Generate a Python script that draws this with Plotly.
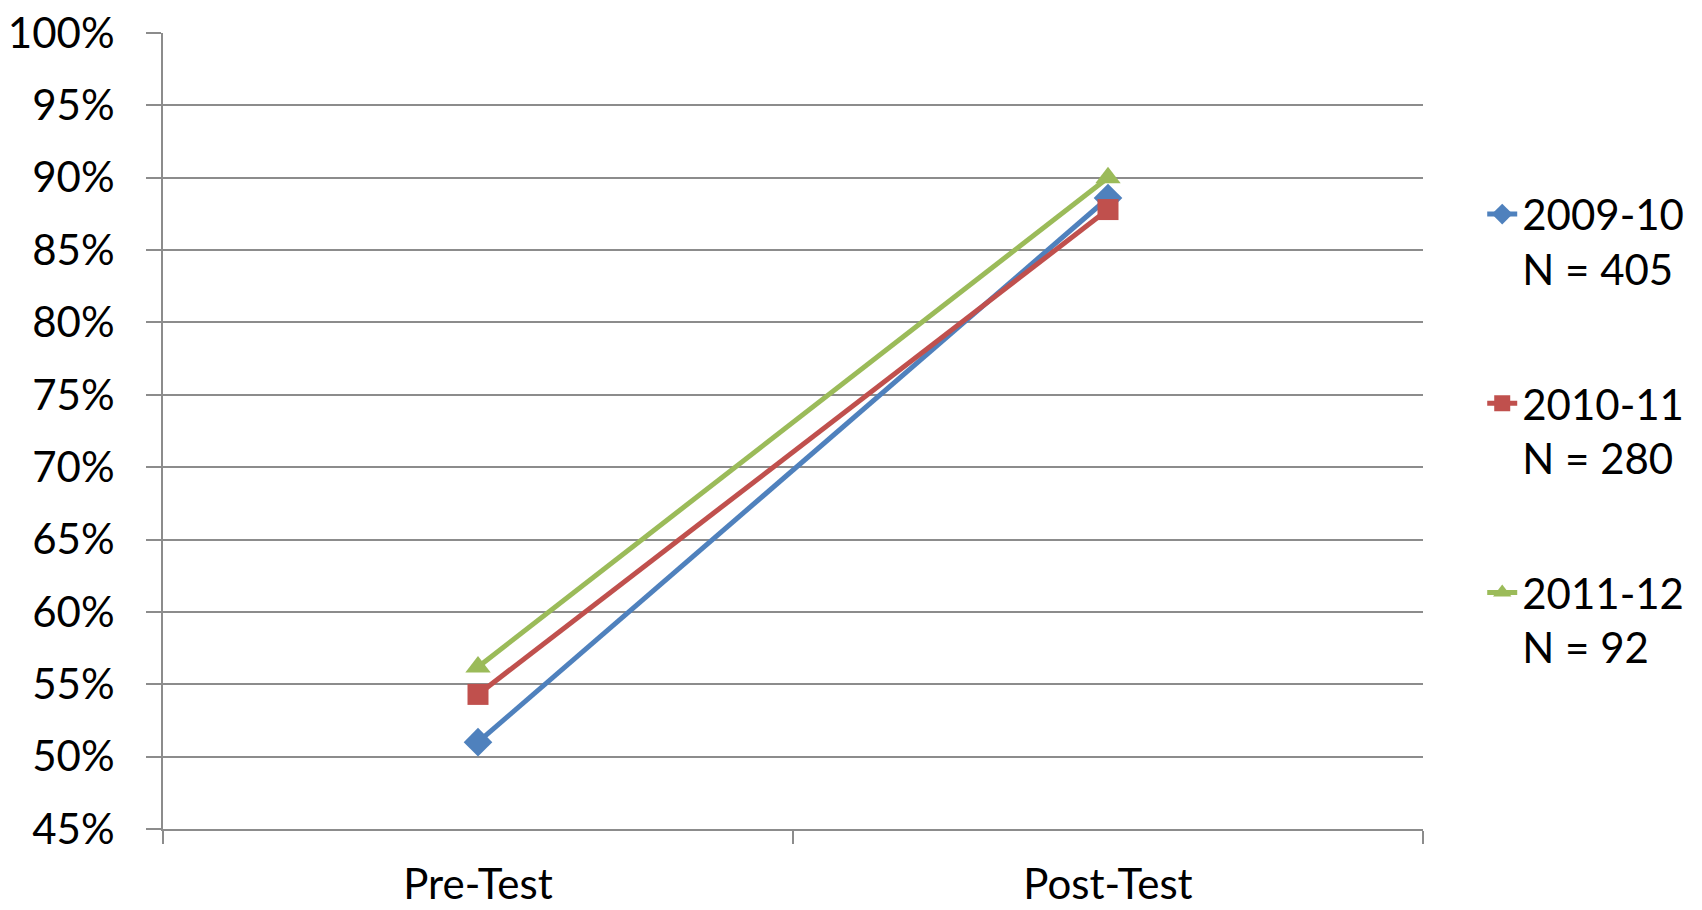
import plotly.graph_objects as go

categories = ["Pre-Test", "Post-Test"]
series_names = ["2009-10<br>N = 405", "2010-11<br>N = 280", "2011-12<br>N = 92"]
values_2009 = [0.510, 0.886]
values_2010 = [0.543, 0.878]
values_2011 = [0.562, 0.900]
colors = ["#4F81BD", "#C0504D", "#9BBB59"]
symbols = ["diamond", "square", "triangle-up"]
marker_sizes = [22, 21, 22]

fig = go.Figure()
for i, (name, vals) in enumerate(zip(series_names, [values_2009, values_2010, values_2011])):
    fig.add_trace(go.Scatter(
        x=categories, y=vals, name=name, mode="lines+markers",
        line=dict(color=colors[i], width=5),
        marker=dict(symbol=symbols[i], size=marker_sizes[i], color=colors[i]),
        legendgroup=f"g{i}",
    ))

grid = "#8C8C8C"
fig.update_layout(
    width=1702, height=910,
    margin=dict(l=155, r=287, t=25, b=89),
    paper_bgcolor="white", plot_bgcolor="white",
    font=dict(family="Lato, Liberation Sans, sans-serif", size=42, color="black"),
    showlegend=True,
    legend=dict(x=1.047, y=0.815, xanchor="left", yanchor="top",
                valign="top", tracegroupgap=77, itemwidth=30,
                font=dict(size=42)),
    xaxis=dict(type="category", range=[-0.5, 1.5], showgrid=False,
               showline=True, linecolor=grid, linewidth=2,
               ticks="outside", tickson="boundaries", ticklen=13,
               tickcolor=grid, tickwidth=2, ticklabelstandoff=18,
               automargin=False),
    yaxis=dict(range=[0.45, 1.0], dtick=0.05, tickformat=".0%",
               showgrid=True, gridcolor=grid, gridwidth=2,
               showline=True, linecolor=grid, linewidth=2,
               ticks="outside", ticklen=15, tickcolor=grid, tickwidth=2,
               ticklabelstandoff=23, zeroline=False, automargin=False,
               ticklabeloverflow="allow"),
)

fig.write_html("out.html")
